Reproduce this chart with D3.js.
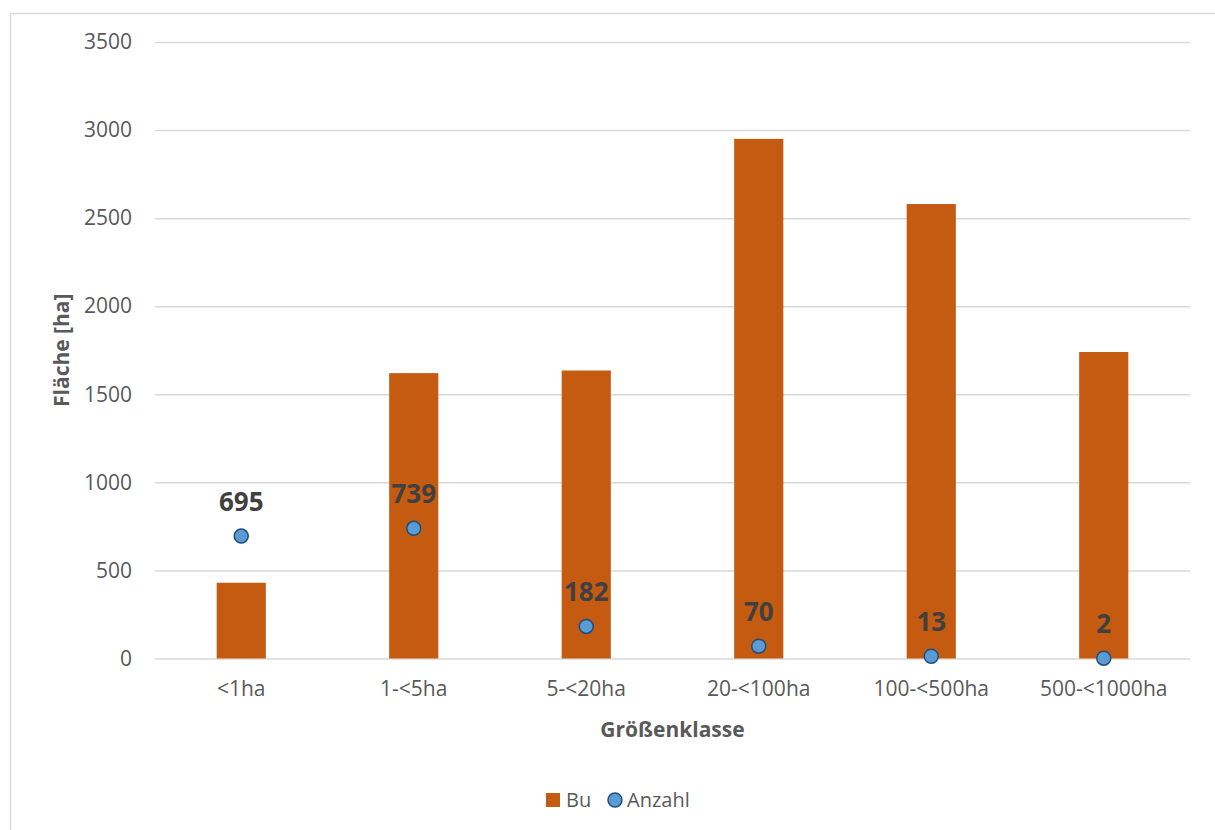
<!DOCTYPE html>
<html>
<head>
<meta charset="utf-8">
<script src="https://cdn.jsdelivr.net/npm/d3@7"></script>
<style>
  html, body { margin: 0; padding: 0; background: #fff; }
  svg { display: block; }
  text { font-family: "Open Sans", sans-serif; }
</style>
</head>
<body>
<svg id="chart" width="1215" height="830"></svg>
<script>
const categories = ["<1ha", "1-<5ha", "5-<20ha", "20-<100ha", "100-<500ha", "500-<1000ha"];
const flaeche = [430, 1620, 1635, 2950, 2580, 1740];
const anzahl = [695, 739, 182, 70, 13, 2];
const yTicks = [0, 500, 1000, 1500, 2000, 2500, 3000, 3500];
const seriesNames = ["Bu", "Anzahl"];
const xTitle = "Größenklasse";
const yTitle = "Fläche [ha]";

const svg = d3.select("#chart");
const W = 1215, H = 830;
const plot = { left: 155, right: 1190, top: 42, bottom: 658.5 };

// outer border (chart area)
svg.append("rect")
  .attr("x", 10.5).attr("y", 13.5)
  .attr("width", W + 10).attr("height", H + 10)
  .attr("fill", "none").attr("stroke", "#D9D9D9").attr("stroke-width", 1.5);

const x = d3.scaleBand().domain(categories).range([plot.left, plot.right]).padding(0);
const y = d3.scaleLinear().domain([0, 3500]).range([plot.bottom, plot.top]);

// gridlines
const yAxis = d3.axisLeft(y).tickValues(yTicks).tickSize(-(plot.right - plot.left)).tickPadding(23).tickFormat(d3.format("d"));
const gy = svg.append("g").attr("transform", `translate(${plot.left},0)`).call(yAxis);
gy.select(".domain").remove();
gy.selectAll(".tick line").attr("stroke", "#D9D9D9").attr("stroke-width", 1.5);
gy.selectAll(".tick text").attr("fill", "#595959").style("font-size", "21px").style("font-family", "'Open Sans', sans-serif");

// bars
const barW = x.bandwidth() * 0.285;
svg.append("g").selectAll("rect").data(categories).join("rect")
  .attr("x", (d) => x(d) + x.bandwidth() / 2 - barW / 2)
  .attr("y", (d, i) => y(flaeche[i]))
  .attr("width", barW)
  .attr("height", (d, i) => y(0) - y(flaeche[i]))
  .attr("fill", "#C55A11");

// x axis labels
const xAxis = d3.axisBottom(x).tickSize(0).tickPadding(23);
const gx = svg.append("g").attr("transform", `translate(0,${plot.bottom})`).call(xAxis);
gx.select(".domain").remove();
gx.selectAll(".tick text").attr("fill", "#595959").style("font-size", "21px").style("font-family", "'Open Sans', sans-serif");

// points
const pts = svg.append("g");
pts.selectAll("circle").data(categories).join("circle")
  .attr("cx", (d) => x(d) + x.bandwidth() / 2)
  .attr("cy", (d, i) => y(anzahl[i]))
  .attr("r", 7)
  .attr("fill", "#5B9BD5")
  .attr("stroke", "#1F4E79")
  .attr("stroke-width", 1.5);

// data labels
svg.append("g").selectAll("text").data(categories).join("text")
  .attr("x", (d) => x(d) + x.bandwidth() / 2)
  .attr("y", (d, i) => y(anzahl[i]) - 25)
  .attr("text-anchor", "middle")
  .attr("fill", "#404040")
  .style("font-size", "26px")
  .style("font-weight", "bold")
  .text((d, i) => anzahl[i]);

// axis titles
svg.append("text")
  .attr("x", (plot.left + plot.right) / 2)
  .attr("y", 737)
  .attr("text-anchor", "middle")
  .attr("fill", "#595959")
  .style("font-size", "21px")
  .style("font-weight", "bold")
  .text(xTitle);

svg.append("text")
  .attr("transform", `translate(69,${(plot.top + plot.bottom) / 2}) rotate(-90)`)
  .attr("text-anchor", "middle")
  .attr("fill", "#595959")
  .style("font-size", "21px")
  .style("font-weight", "bold")
  .text(yTitle);

// legend
const lg = svg.append("g");
lg.append("rect").attr("x", 546).attr("y", 793).attr("width", 14).attr("height", 14).attr("fill", "#C55A11");
lg.append("text").attr("x", 566).attr("y", 807).attr("fill", "#595959").style("font-size", "20px").text(seriesNames[0]);
lg.append("circle").attr("cx", 615).attr("cy", 800).attr("r", 7).attr("fill", "#5B9BD5").attr("stroke", "#1F4E79").attr("stroke-width", 1.5);
lg.append("text").attr("x", 627).attr("y", 807).attr("fill", "#595959").style("font-size", "20px").text(seriesNames[1]);
</script>
</body>
</html>
